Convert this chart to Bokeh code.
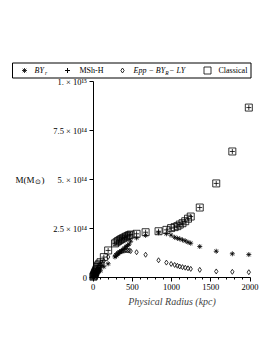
from bokeh.plotting import figure
from bokeh.models import Range1d, FixedTicker
from bokeh.core.properties import value
from bokeh.embed import file_html
from bokeh.resources import INLINE

# ---------------- data (mass in units of 1e14 solar masses) ----------------
radius_kpc = [5, 10, 15, 20, 25, 30, 38, 45, 53, 65, 80, 96, 138, 193,
              280, 300, 320, 340, 360, 380, 400, 420, 440, 460, 480,
              555, 670, 835, 935, 995, 1040, 1075, 1105, 1140, 1175, 1210, 1245,
              1360, 1570, 1775, 1985]

mass_by_r = [0.03, 0.06, 0.09, 0.12, 0.15, 0.18, 0.22, 0.26, 0.30, 0.34, 0.40, 0.34, 0.55, 0.70,
             1.05, 1.12, 1.20, 1.28, 1.35, 1.42, 1.50, 1.57, 1.63, 1.70, 1.85,
             2.02, 2.15, 2.28, 2.23, 2.16, 2.05, 2.00, 1.97, 1.92, 1.87, 1.80, 1.75,
             1.58, 1.34, 1.21, 1.17]

mass_msh_h = [0.04, 0.08, 0.13, 0.18, 0.23, 0.28, 0.35, 0.42, 0.53, 0.62, 0.70, 0.78, 1.04, 1.38,
              1.74, 1.80, 1.86, 1.91, 1.96, 2.00, 2.04, 2.08, 2.12, 2.16, 2.19,
              2.23, 2.31, 2.36, 2.43, 2.52, 2.57, 2.62, 2.70, 2.77, 2.87, 3.00, 3.11,
              3.57, 4.80, 6.43, 8.67]

mass_epp = [0.03, 0.07, 0.11, 0.15, 0.19, 0.23, 0.29, 0.34, 0.42, 0.50, 0.58, 0.66, 0.85, 1.05,
            1.12, 1.20, 1.26, 1.30, 1.33, 1.35, 1.37, 1.38, 1.38, 1.37, 1.35,
            1.29, 1.16, 0.88, 0.76, 0.69, 0.64, 0.60, 0.56, 0.53, 0.50, 0.47, 0.44,
            0.39, 0.31, 0.29, 0.27]

mass_classical = [0.04, 0.08, 0.13, 0.18, 0.23, 0.28, 0.35, 0.42, 0.53, 0.62, 0.70, 0.78, 1.04, 1.38,
                  1.74, 1.80, 1.86, 1.91, 1.96, 2.00, 2.04, 2.08, 2.12, 2.16, 2.19,
                  2.23, 2.31, 2.36, 2.43, 2.52, 2.57, 2.62, 2.70, 2.77, 2.87, 3.00, 3.11,
                  3.57, 4.80, 6.43, 8.67]

x_ticks = [0, 500, 1000, 1500, 2000]
x_minor_ticks = [100, 200, 300, 400, 600, 700, 800, 900, 1100, 1200, 1300, 1400,
                 1600, 1700, 1800, 1900]
y_ticks = [0, 2.5, 5, 7.5, 10]
y_tick_labels = ["0", "2.5 × 10¹⁴", "5. × 10¹⁴", "7.5 × 10¹⁴", "1. × 10¹⁵"]
x_label = "Physical Radius (kpc)"

# ---------------- layout (page pixels; canvas starts at page 0,0) ----------------
W, H = 261, 342
X0, KPC_PX = 92.5, 0.0785     # page x of r=0, px per kpc
Y0, UNIT_PX = 277.0, 19.6     # page y of M=0, px per 1e14

x_start = (0 - X0) / KPC_PX
x_end = (W - X0) / KPC_PX
y_start = (Y0 - H) / UNIT_PX
y_end = (Y0 - 0) / UNIT_PX

FONT = value("Liberation Serif")

p = figure(width=W, height=H, output_backend="svg", toolbar_location=None,
           x_range=Range1d(x_start, x_end), y_range=Range1d(y_start, y_end),
           min_border=0, min_border_left=0, min_border_right=0,
           min_border_top=0, min_border_bottom=0)
p.title.visible = False
p.outline_line_color = None
p.grid.visible = False
p.background_fill_color = "white"
p.border_fill_color = "white"

p.extra_x_ranges = {"px": Range1d(0, W)}
p.extra_y_ranges = {"px": Range1d(H, 0)}

# axes placed at the data origin
for ax in (p.xaxis[0], p.yaxis[0]):
    ax.fixed_location = 0
    ax.axis_line_color = "black"
    ax.axis_line_width = 1
    ax.major_tick_in = 0
    ax.major_tick_out = 4
    ax.major_tick_line_color = "black"
    ax.major_label_text_font = "Liberation Serif"
    ax.major_label_text_font_size = "8.5px"
    ax.major_label_text_color = "black"

p.xaxis.bounds = (0, 2000)
p.yaxis.bounds = (0, 10)
p.xaxis.ticker = FixedTicker(ticks=x_ticks, minor_ticks=x_minor_ticks)
p.xaxis.minor_tick_in = 0
p.xaxis.minor_tick_out = 2
p.xaxis.minor_tick_line_color = "black"
p.xaxis.major_label_standoff = 2
p.xaxis.axis_label = x_label
p.xaxis.axis_label_text_font = "Liberation Serif"
p.xaxis.axis_label_text_font_style = "italic"
p.xaxis.axis_label_text_font_size = "10px"
p.xaxis.axis_label_standoff = 3

p.yaxis.ticker = FixedTicker(ticks=y_ticks, minor_ticks=[])
p.yaxis.major_label_overrides = {t: l for t, l in zip(y_ticks, y_tick_labels)}
p.yaxis.minor_tick_line_color = None
p.yaxis.major_label_standoff = 2

# ---------------- series ----------------
p.scatter(radius_kpc, mass_classical, marker="square", size=7, fill_color=None,
          line_color="black", line_width=0.8)
p.scatter(radius_kpc, mass_msh_h, marker="cross", size=5, line_color="black", line_width=0.8)
p.scatter(radius_kpc, mass_by_r, marker="asterisk", size=5, line_color="black", line_width=0.8)
p.scatter(radius_kpc, mass_epp, marker="diamond", size=5, fill_color=None,
          line_color="black", line_width=0.8)

# ---------------- legend (drawn in page px coordinates) ----------------
LY = 70.0
p.quad(left=[12], right=[250.5], top=[62.5], bottom=[77.5], fill_color=None,
       line_color="black", line_width=1, x_range_name="px", y_range_name="px")
p.scatter([24], [LY], marker="asterisk", size=5, line_color="black", line_width=0.8,
          x_range_name="px", y_range_name="px")
p.scatter([67], [LY], marker="cross", size=5, line_color="black", line_width=1,
          x_range_name="px", y_range_name="px")
p.scatter([122], [LY], marker="diamond", size=5, fill_color=None, line_color="black",
          line_width=0.8, x_range_name="px", y_range_name="px")
p.scatter([207], [LY], marker="square", size=7, fill_color=None, line_color="black",
          line_width=0.8, x_range_name="px", y_range_name="px")

def txt(x, y, s, size="8px", style="normal", align="left"):
    p.text(x=[x], y=[y], text=[s], text_font=FONT, text_font_size=size,
           text_font_style=style, text_align=align, text_baseline="middle",
           text_color="black", x_range_name="px", y_range_name="px")

txt(34, LY, "BY", style="italic")
txt(44.5, LY + 2.5, "r", size="5.5px", style="italic")
txt(79, LY, "MSh-H")
txt(133, LY, "Epp − BY", style="italic")
txt(164.8, LY + 2.5, "R", size="5.5px", style="italic")
txt(168.5, LY, " − LY", style="italic")
txt(218, LY, "Classical")

# y-axis label  M(M_sun)
txt(15, 179, "M(M", size="9px")
txt(34.5, 181, "⊙", size="7px")
txt(41, 179, ")", size="9px")

open("out.html", "w").write(file_html(p, INLINE))
